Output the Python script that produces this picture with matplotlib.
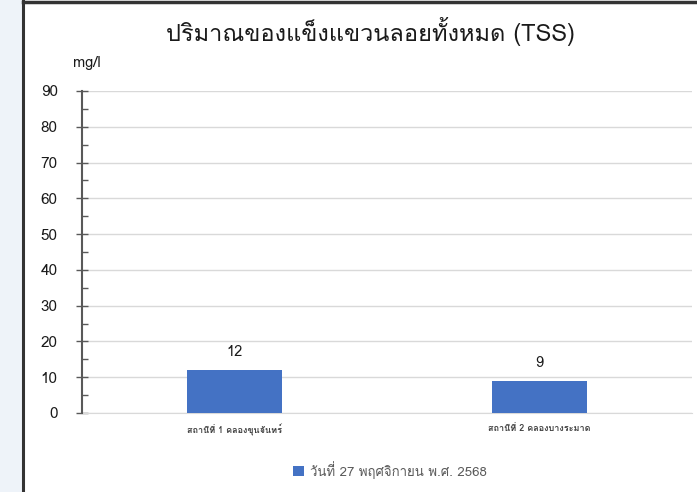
import matplotlib
matplotlib.use("Agg")
import matplotlib.pyplot as plt
from matplotlib import font_manager
from matplotlib.ft2font import FT2Font
from matplotlib.patches import Rectangle
from matplotlib.ticker import MultipleLocator

# หาฟอนต์ที่มีอักษรไทย
thai_font = None
for f in font_manager.fontManager.ttflist:
    try:
        if 0x0E1B in FT2Font(f.fname).get_charmap():
            thai_font = f.name
            break
    except Exception:
        pass
fams = ([thai_font] if thai_font else []) + ['DejaVu Sans']
plt.rcParams['font.family'] = fams

# ข้อมูล
stations = ['สถานีที่ 1 คลองขุนจันทร์', 'สถานีที่ 2 คลองบางระมาด']
tss = [12, 9]
series_name = 'วันที่ 27 พฤศจิกายน พ.ศ. 2568'
title = 'ปริมาณของแข็งแขวนลอยทั้งหมด (TSS)'
unit = 'mg/l'
y_ticks = list(range(0, 100, 10))

W, H = 697, 492
fig = plt.figure(figsize=(W / 100, H / 100), dpi=100)

# พื้นหลังด้านซ้ายและกรอบ
fig.patches.append(Rectangle((0, 0), 23 / W, 1, transform=fig.transFigure,
                             facecolor='#eef3f9', edgecolor='none', zorder=0))
fig.add_artist(plt.Line2D([23 / W, 23 / W], [0, 1], color='#333333', lw=2.2))
fig.add_artist(plt.Line2D([23 / W, 1], [1 - 1.5 / H, 1 - 1.5 / H], color='#333333', lw=2.5))

ax = fig.add_axes([82 / W, 79 / H, 610 / W, 322 / H])
x = list(range(len(stations)))
bars = ax.bar(x, tss, width=0.312, color='#4472c4', zorder=3)
for b, v in zip(bars, tss):
    ax.annotate(str(v), (b.get_x() + b.get_width() / 2, v), xytext=(0, 8),
                textcoords='offset points', ha='center', va='bottom',
                fontsize=10.5, color='#1a1a1a')

ax.set_xlim(-0.5, 1.5)
ax.set_ylim(0, 90)
ax.set_yticks(y_ticks)
ax.yaxis.set_minor_locator(MultipleLocator(5))
ax.set_xticks(x)
ax.set_xticklabels(stations, fontsize=6.5, fontweight='bold', color='#404040')
ax.tick_params(axis='x', length=0, pad=8)
ax.tick_params(axis='y', which='major', direction='inout', length=9, width=1,
               color='#595959', labelsize=11, labelcolor='#1a1a1a', pad=13)
ax.tick_params(axis='y', which='minor', direction='in', length=4, width=1, color='#595959')
ax.grid(axis='y', color='#d9d9d9', lw=1, zorder=0)
for s in ['top', 'right']:
    ax.spines[s].set_visible(False)
ax.spines['bottom'].set_color('#d9d9d9')
ax.spines['left'].set_color('#595959')
ax.spines['left'].set_linewidth(1.5)
ax.spines['left'].set_zorder(4)

fig.text(370 / W, 1 - 32 / H, title, ha='center', va='center',
         fontsize=17, color='#1a1a1a')
fig.text(87 / W, 1 - 63 / H, unit, ha='center', va='center',
         fontsize=10.5, color='#1a1a1a')

leg = fig.legend([bars[0]], [series_name], loc='center', bbox_to_anchor=(390 / W, 1 - 470 / H),
                 frameon=False, fontsize=9.5, handlelength=0.8, handleheight=0.8,
                 handletextpad=0.5)
for t in leg.get_texts():
    t.set_color('#595959')

fig.savefig('out.png', dpi=100)
